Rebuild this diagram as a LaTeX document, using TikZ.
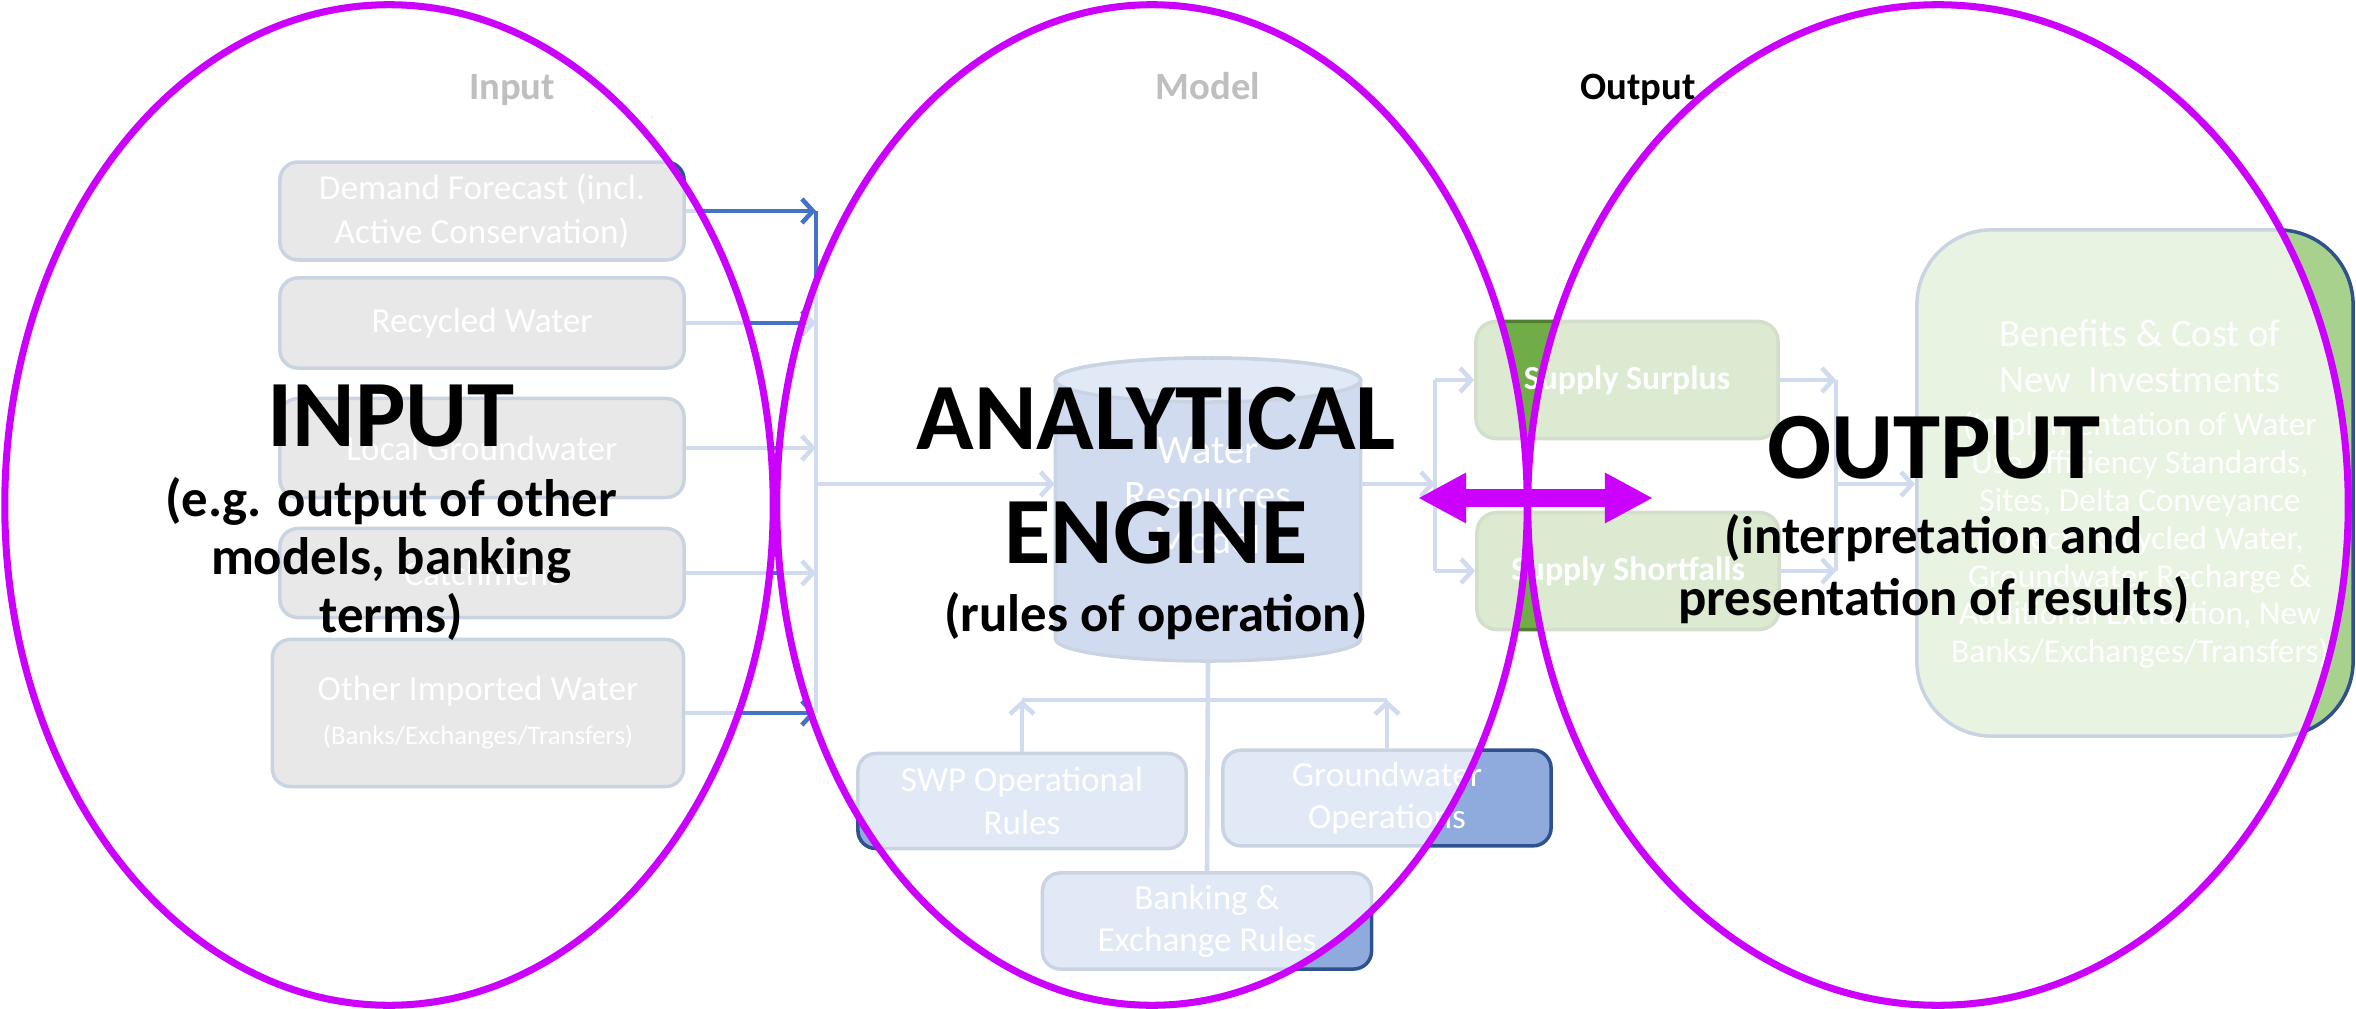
\documentclass[tikz,border=0pt]{standalone}
\usepackage{fontspec}
\setmainfont{Carlito}
\usetikzlibrary{arrows.meta, positioning, shapes.geometric}
\definecolor{Magenta}{HTML}{CC00FF}
\definecolor{AccentBlue}{HTML}{4472C4}
\definecolor{TopBlue}{HTML}{8FAADC}
\definecolor{EdgeBlue}{HTML}{2F528F}
\definecolor{BoxGrey}{HTML}{A5A5A5}
\definecolor{RuleBlue}{HTML}{8FAADC}
\definecolor{SupplyGreen}{HTML}{70AD47}
\definecolor{EdgeGreen}{HTML}{507E32}
\definecolor{LightGreen}{HTML}{A9D18E}

\begin{document}
\begin{tikzpicture}[x=0.01cm, y=-0.01cm,
    inbox/.style={draw=EdgeBlue, line width=1pt, rounded corners=0.18cm, fill=BoxGrey, text=white, align=center, minimum width=4.04cm, font=\fontsize{10}{12.5}\selectfont},
    rulebox/.style={draw=EdgeBlue, line width=1pt, rounded corners=0.18cm, fill=RuleBlue, text=white, align=center, minimum width=3.28cm, minimum height=0.95cm, font=\fontsize{10}{12}\selectfont},
    supplybox/.style={draw=EdgeGreen, line width=1pt, rounded corners=0.2cm, fill=SupplyGreen, text=white, minimum width=3.02cm, minimum height=1.17cm, font=\bfseries\fontsize{9.6}{11}\selectfont},
    flow/.style={AccentBlue, line width=1.3pt, -{Straight Barb[length=1.1mm, width=2.4mm]}},
    flowline/.style={AccentBlue, line width=1.3pt},
    heading/.style={font=\bfseries\fontsize{11}{13}\selectfont, anchor=base},
    bigtitle/.style={font=\bfseries\fontsize{27}{32.4}\selectfont, align=center},
    bigsub/.style={font=\bfseries\fontsize{15}{16.5}\selectfont, align=center},
    halo/.style={fill=white, fill opacity=0.75},
    ring/.style={draw=Magenta, line width=2pt}
]
    \useasboundingbox (0,0) rectangle (2356,1009);

    % Column headings
    \node[heading] (inputhd) at (512,99) {Input};
    \node[heading] (modelhd) at (1208,99) {Model};
    \node[heading] (outputhd) at (1638,99) {Output};

    % Input boxes
    \node[inbox, minimum height=0.88cm] (demand) at (482,211) {Demand Forecast (incl.\\Active Conservation)};
    \node[inbox, minimum height=0.90cm] (recycled) at (482,323) {Recycled Water};
    \node[inbox, minimum height=0.99cm] (localgw) at (482,448) {Local Groundwater};
    \node[inbox, minimum height=0.89cm] (catchment) at (482,573) {Catchment};
    \node[inbox, minimum width=4.11cm, minimum height=1.47cm] (imported) at (478,713) {Other Imported Water\\{\fontsize{7.6}{10}\selectfont (Banks/Exchanges/Transfers)}};

    % Collector line into the model
    \coordinate (bustop) at (816,211);
    \coordinate (busbot) at (816,713);
    \coordinate (busmid) at (816,484);
    \foreach \src in {demand, recycled, localgw, catchment, imported}
        \draw[flow] (\src.east) -- (\src.east -| bustop);
    \draw[flowline] (bustop) -- (busbot);

    % Water resources model (drum)
    \node[minimum width=3.05cm, minimum height=3.03cm, inner sep=0pt] (wrm) at (1208,510) {};
    \filldraw[draw=EdgeBlue, line width=1pt, fill=AccentBlue]
        (1055.5,380) -- (1055.5,639) arc [start angle=180, end angle=360, x radius=1.525cm, y radius=0.22cm]
        -- (1360.5,380) arc [start angle=0, end angle=180, x radius=1.525cm, y radius=0.22cm] -- cycle;
    \filldraw[draw=EdgeBlue, line width=1pt, fill=TopBlue] (1208,380) ellipse [x radius=1.525cm, y radius=0.22cm];
    \node[text=white, align=center, font=\fontsize{11.5}{12.8}\selectfont] (wrmtxt) at (1208,496) {Water\\Resources\\Model};
    \draw[flow] (busmid) -- (busmid -| wrm.west);

    % Operating rules
    \node[rulebox] (swp) at (1022,801) {SWP Operational\\Rules};
    \node[rulebox] (gwops) at (1387,798) {Groundwater\\Operations};
    \node[rulebox, minimum width=3.29cm, minimum height=0.90cm] (banking) at (1207,921) {Banking \&\\Exchange Rules};
    \coordinate (tee) at (1208,700);
    \draw[flowline] (wrm.south) -- (banking.north);
    \draw[flowline] (swp.north |- tee) -- (gwops.north |- tee);
    \draw[flow] (swp.north) -- (swp.north |- tee);
    \draw[flow] (gwops.north) -- (gwops.north |- tee);

    % Supply results
    \coordinate (split) at (1435,484);
    \node[supplybox] (surplus) at (1627,380) {Supply Surplus};
    \node[supplybox] (shortfall) at (1628,571) {Supply Shortfalls};
    \draw[flow] (busmid -| wrm.east) -- (split);
    \draw[flowline] (split |- surplus) -- (split |- shortfall);
    \draw[flow] (split |- surplus) -- (surplus.west);
    \draw[flow] (split |- shortfall) -- (shortfall.west);

    % Benefits and costs
    \coordinate (merge) at (1836,484);
    \node[draw=EdgeBlue, line width=1pt, rounded corners=0.75cm, fill=LightGreen,
          minimum width=4.36cm, minimum height=5.06cm] (benefits) at (2135,483) {};
    \node[text=white, align=center, font=\fontsize{11}{13.1}\selectfont] (benefitsttl) at (2140,356) {Benefits \& Cost of\\New\ \ Investments};
    \node[text=white, align=center, font=\fontsize{9.5}{10.75}\selectfont] (benefitstxt) at (2140,540) {(Implementation of Water\\Use Efficiency Standards,\\Sites, Delta Conveyance\\Project, Recycled Water,\\Groundwater Recharge \&\\Additional Extraction, New\\Banks/Exchanges/Transfers)};
    \draw[flow] (surplus.east) -- (surplus.east -| merge);
    \draw[flow] (shortfall.east) -- (shortfall.east -| merge);
    \draw[flowline] (merge |- surplus) -- (merge |- shortfall);
    \draw[flow] (merge) -- (benefits.west |- merge);

    % Three stages: washed-out ovals
    \foreach \cx/\rx in {389/3.84, 1152/3.75, 1938/4.10}
        \fill[halo] (\cx,505) ellipse [x radius=\rx cm, y radius=5cm];
    \foreach \cx/\rx in {389/3.84, 1152/3.75, 1938/4.10}
        \draw[ring] (\cx,505) ellipse [x radius=\rx cm, y radius=5cm];

    % Stage labels
    \node[bigtitle, anchor=base] (inputttl) at (391,446) {INPUT};
    \node[bigsub] (inputsub) at (391,559) {(e.g. output of other\\models, banking\\terms)};
    \node[bigtitle] (enginettl) at (1156,476) {ANALYTICAL\\ENGINE};
    \node[bigsub] (enginesub) at (1156,616) {(rules of operation)};
    \node[bigtitle, anchor=base] (outputttl) at (1934,478) {OUTPUT};
    \node[bigsub, font=\bfseries\fontsize{15}{17.5}\selectfont] (outputsub) at (1934,569) {(interpretation and\\presentation of results)};

    % Two-way link between model and output
    \coordinate (linkleft) at (1418,498);
    \coordinate (linkright) at (1653,498);
    \draw[Magenta, line width=0.17cm, {Triangle[length=0.48cm, width=0.47cm]}-{Triangle[length=0.48cm, width=0.47cm]}] (linkleft) -- (linkright);
\end{tikzpicture}
\end{document}
